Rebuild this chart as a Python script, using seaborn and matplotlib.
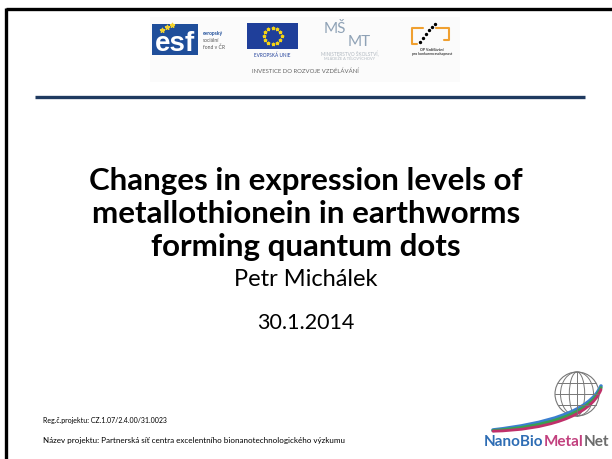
import numpy as np
import matplotlib
matplotlib.use("Agg")
import matplotlib.pyplot as plt
import seaborn as sns
from matplotlib.patches import Rectangle, Circle, Ellipse, PathPatch
from matplotlib.path import Path

sns.set_theme(style="white")
plt.rcParams["font.family"] = ["Lato", "DejaVu Sans"]

# slide texts
title_lines = [
    "Changes in expression levels of",
    "metallothionein in earthworms",
    "forming quantum dots",
]
author = "Petr Michálek"
date = "30.1.2014"
footer_lines = [
    "Reg.č.projektu: CZ.1.07/2.4.00/31.0023",
    "Název projektu: Partnerská síť centra excelentního bionanotechnologického výzkumu",
]
footer_sizes = [5.0, 5.8]
logo_parts = ["NanoBio", "Metal", "Net"]
logo_colors = ["#2E6DB4", "#C2407E", "#6B6B6B"]
header_caption = "INVESTICE DO ROZVOJE VZDĚLÁVÁNÍ"

fig = plt.figure(figsize=(6.12, 4.59), dpi=100)
ax = fig.add_axes([0, 0, 1, 1])
ax.set_xlim(0, 612)
ax.set_ylim(459, 0)
ax.axis("off")

# frame (top and left)
ax.plot([6, 612], [9, 9], color="black", lw=2.4, solid_capstyle="butt")
ax.plot([6, 6], [8, 459], color="black", lw=2.4, solid_capstyle="butt")

# header logo strip
ax.add_patch(Rectangle((150, 17), 310, 65, color="#FBFBFB", lw=0))
# esf
ax.add_patch(Rectangle((152, 24), 46, 31, color="#1F4E9A", lw=0))
ax.text(175, 44, "esf", color="white", fontsize=20, fontweight="bold",
        ha="center", va="center", family=["Liberation Sans"])
ax.scatter([162, 167, 172], [30, 27, 25], marker="*", s=10, color="#F2D22E")
for i, w in enumerate(["evropský", "sociální", "fond v ČR"]):
    ax.text(203, 34 + i * 6.5, w, fontsize=3.6, color="#1F4E9A" if i == 0 else "#555555",
            fontweight="bold" if i == 0 else "normal", va="center")
# EU flag
ax.add_patch(Rectangle((247, 23), 51, 26, color="#1F3F9A", lw=0))
ang = np.linspace(0, 2 * np.pi, 13)[:-1]
ax.scatter(272.5 + 9 * np.cos(ang), 36 + 8 * np.sin(ang), marker="*", s=4, color="#F5D415")
ax.text(272.5, 55, "EVROPSKÁ UNIE", fontsize=3.4, color="#1F3F9A", ha="center", va="center")
# MSMT
ax.text(335, 29, "MŠ", fontsize=11, color="#8FA2B6", ha="center", va="center")
ax.text(359, 42, "MT", fontsize=11, color="#8FA2B6", ha="center", va="center")
ax.text(350, 54, "MINISTERSTVO ŠKOLSTVÍ,", fontsize=3.4, color="#B0B8C0", ha="center", va="center")
ax.text(350, 59, "MLÁDEŽE A TĚLOVÝCHOVY", fontsize=2.8, color="#B0B8C0", ha="center", va="center")
# OP logo
ax.plot([423, 412, 412, 417], [28, 28, 44, 44], color="#F0A030", lw=1.5)
ax.plot([436, 449, 449, 444], [28, 28, 40, 40], color="#F0A030", lw=1.5)
ax.scatter([420, 423, 426, 429, 432, 435], [42, 38, 34, 30, 27, 24], s=2, color="black")
ax.text(432, 51, "OP Vzdělávání", fontsize=2.6, color="#333333", ha="center", fontweight="bold")
ax.text(432, 55, "pro konkurenceschopnost", fontsize=2.4, color="#333333", ha="center", fontweight="bold")
ax.text(305, 71, header_caption, fontsize=4.3, color="#666666", ha="center", va="center")

# blue rule
ax.plot([35, 585], [97, 97], color="#1F3A60", lw=2.4, solid_capstyle="butt")

# title
for i, line in enumerate(title_lines):
    ax.text(306, 181 + i * 33, line, fontsize=22.5, fontweight="bold", color="black",
            ha="center", va="center")
ax.text(306, 279, author, fontsize=17, color="black", ha="center", va="center")
ax.text(306, 323, date, fontsize=15.5, color="black", ha="center", va="center")

# footer
for i, (line, fs) in enumerate(zip(footer_lines, footer_sizes)):
    ax.text(43, 420 + i * 21, line, fontsize=fs, color="black", ha="left", va="center")

# NanoBioMetalNet logo: globe
gx, gy, gr = 577, 394, 22
ax.add_patch(Circle((gx, gy), gr, fill=False, ec="#777777", lw=0.8))
for w in [0.35, 0.75]:
    ax.add_patch(Ellipse((gx, gy), 2 * gr * w, 2 * gr, fill=False, ec="#777777", lw=0.7))
ax.plot([gx, gx], [gy - gr, gy + gr], color="#777777", lw=0.7)
for dy in [-11, 0, 11]:
    half = np.sqrt(gr ** 2 - dy ** 2)
    ax.plot([gx - half, gx + half], [gy + dy, gy + dy], color="#777777", lw=0.7)
# swooshes
for off, col, lw in [(0, "#3A7FD0", 2.6), (3, "#3AA050", 2.3), (6, "#C0306A", 2.0)]:
    verts = [(493, 430 + off * 0.2), (545, 424 + off), (590, 412 + off * 0.8), (601, 386 + off * 0.6)]
    ax.add_patch(PathPatch(Path(verts, [Path.MOVETO, Path.CURVE4, Path.CURVE4, Path.CURVE4]),
                           fill=False, ec=col, lw=lw, capstyle="round"))
# logo text
x = 484
for part, col in zip(logo_parts, logo_colors):
    t = ax.text(x, 442, part, fontsize=11, color=col, fontweight="bold", ha="left", va="center")
    fig.canvas.draw()
    bb = t.get_window_extent()
    x += bb.width + 0.3

fig.savefig("out.png", dpi=100)
